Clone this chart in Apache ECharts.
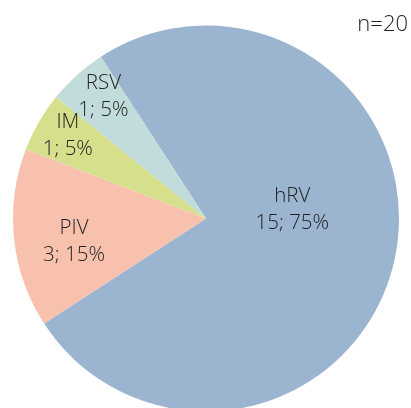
<!DOCTYPE html>
<html>
<head>
<meta charset="utf-8">
<script src="https://cdn.jsdelivr.net/npm/echarts@6/dist/echarts.min.js"></script>
<style>html,body{margin:0;padding:0;background:#fff}#c{width:411px;height:408px}</style>
</head>
<body>
<div id="c"></div>
<script>
const categories = ['hRV', 'PIV', 'IM', 'RSV'];
const counts = [15, 3, 1, 1];
const percents = [75, 15, 5, 5];
const totalLabel = 'n=20';

const colors = ['#9BB5D1', '#F7C1AD', '#D6DF8B', '#C1DCDA'];
const labelOffsets = [[-11, -30], [-33, 13], [-52, -33], [-36, -48]];

const chart = echarts.init(document.getElementById('c'));
chart.setOption({
  animation: false,
  title: {
    text: totalLabel,
    right: -2, top: 9,
    textStyle: { fontFamily: 'Open Sans', fontSize: 22, fontWeight: 300, color: '#222' }
  },
  series: [{
    type: 'pie',
    center: [206, 218.5],
    radius: 193,
    startAngle: 123,
    clockwise: true,
    avoidLabelOverlap: false,
    minShowLabelAngle: 0,
    labelLayout: { hideOverlap: false },
    label: {
      show: true,
      position: 'inside',
      fontFamily: 'Open Sans',
      fontSize: 20.5,
      fontWeight: 300,
      lineHeight: 27,
      color: '#222',
      overflow: 'none',
      formatter: p => p.name + '\n' + counts[p.dataIndex] + '; ' + percents[p.dataIndex] + '%'
    },
    labelLine: { show: false },
    emphasis: { disabled: true },
    data: categories.map((c, i) => ({
      name: c,
      value: counts[i],
      itemStyle: { color: colors[i] },
      label: { offset: labelOffsets[i] }
    }))
  }]
});
</script>
</body>
</html>
